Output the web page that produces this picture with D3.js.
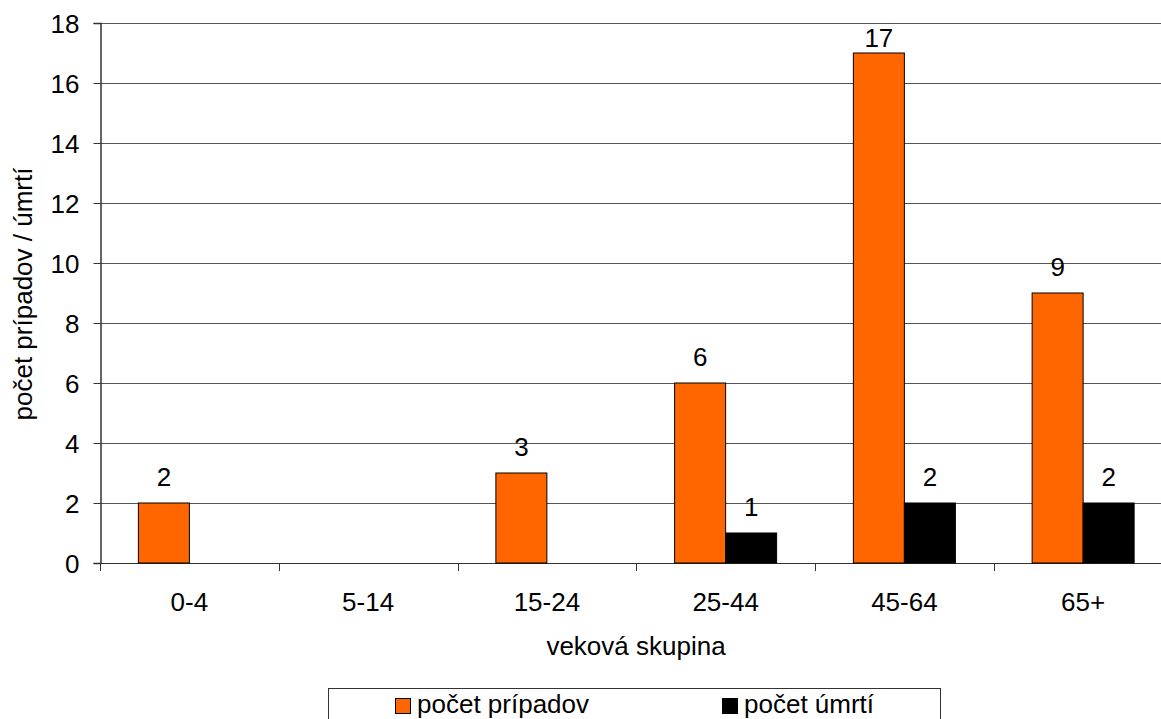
<!DOCTYPE html>
<html>
<head>
<meta charset="utf-8">
<script src="https://cdn.jsdelivr.net/npm/d3@7"></script>
<style>
  html, body { margin: 0; padding: 0; background: #fff; }
  svg { display: block; font-family: "Liberation Sans", Arial, sans-serif; }
</style>
</head>
<body>
<svg id="chart" width="1161" height="719"></svg>
<script>
// Age groups and counts
const categories = ["0-4", "5-14", "15-24", "25-44", "45-64", "65+"];
const cases = [2, 0, 3, 6, 17, 9];
const deaths = [0, 0, 0, 1, 2, 2];
const seriesNames = ["počet prípadov", "počet úmrtí"];
const seriesColors = ["#FF6600", "#000000"];
const yTicks = [0, 2, 4, 6, 8, 10, 12, 14, 16, 18];

const FONT = 26;
const svg = d3.select("#chart");
const plotLeft = 100, plotRight = 1172.5, plotTop = 23, plotBottom = 563;

const x = d3.scaleBand().domain(categories).range([plotLeft, plotRight]).paddingInner(0).paddingOuter(0);
const y = d3.scaleLinear().domain([0, 18]).range([plotBottom, plotTop]);
const barW = 51;
const inner = d3.scaleBand().domain([0, 1]).range([0, barW * 2]).padding(0);
const groupOffset = (x.bandwidth() - barW * 2) / 2;

// gridlines
svg.append("g").selectAll("line").data(yTicks.filter(d => d > 0)).join("line")
  .attr("x1", plotLeft).attr("x2", 1161)
  .attr("y1", d => Math.round(y(d)) + 0.5).attr("y2", d => Math.round(y(d)) + 0.5)
  .attr("stroke", "#555").attr("stroke-width", 1.2);

// y axis
const yAxis = svg.append("g").attr("transform", `translate(${plotLeft + 0.5},0)`)
  .call(d3.axisLeft(y).tickValues(yTicks).tickSize(7).tickPadding(14).tickFormat(d3.format("d")));
yAxis.select(".domain").attr("stroke", "#333").attr("stroke-width", 1.5);
yAxis.selectAll(".tick line").attr("stroke", "#333");
yAxis.selectAll(".tick text").attr("font-size", FONT).attr("fill", "#000")
  .attr("font-family", "Liberation Sans, Arial, sans-serif").attr("dy", "0.35em");

// x axis
const xAxis = svg.append("g").attr("transform", `translate(0,${plotBottom + 0.5})`)
  .call(d3.axisBottom(x).tickSize(0).tickPadding(0));
xAxis.select(".domain").attr("stroke", "#333").attr("stroke-width", 1.2).attr("d", `M${plotLeft},0H1161`);
xAxis.selectAll(".tick text").attr("font-size", FONT).attr("fill", "#000")
  .attr("font-family", "Liberation Sans, Arial, sans-serif").attr("dy", null).attr("y", 47);
// category separators
svg.append("g").selectAll("line").data(categories).join("line")
  .attr("x1", d => Math.round(x(d)) + 0.5).attr("x2", d => Math.round(x(d)) + 0.5)
  .attr("y1", plotBottom).attr("y2", plotBottom + 8)
  .attr("stroke", "#333").attr("stroke-width", 1);

// bars
const rows = categories.map((c, i) => ({ c, vals: [cases[i], deaths[i]] }));
const groups = svg.append("g").selectAll("g").data(rows).join("g")
  .attr("transform", d => `translate(${x(d.c) + groupOffset},0)`);
groups.selectAll("rect").data(d => d.vals.map((v, k) => ({ v, k })).filter(e => e.v > 0)).join("rect")
  .attr("x", e => inner(e.k))
  .attr("width", inner.bandwidth())
  .attr("y", e => y(e.v))
  .attr("height", e => y(0) - y(e.v))
  .attr("fill", e => seriesColors[e.k])
  .attr("stroke", "#000").attr("stroke-width", 1);
// value labels, kept inside the chart area near the top
groups.selectAll("text").data(d => d.vals.map((v, k) => ({ v, k })).filter(e => e.v > 0)).join("text")
  .attr("x", e => inner(e.k) + inner.bandwidth() / 2)
  .attr("y", e => Math.max(y(e.v) - 17, 47))
  .attr("text-anchor", "middle")
  .attr("font-size", FONT).attr("fill", "#000")
  .text(e => e.v);

// axis titles
svg.append("text").attr("x", 636).attr("y", 655).attr("text-anchor", "middle")
  .attr("font-size", FONT).text("veková skupina");
svg.append("text").attr("transform", "translate(32,294) rotate(-90)").attr("text-anchor", "middle")
  .attr("font-size", FONT).text("počet prípadov / úmrtí");

// legend
const lg = svg.append("g");
lg.append("rect").attr("x", 328.5).attr("y", 688.5).attr("width", 612).attr("height", 50)
  .attr("fill", "#fff").attr("stroke", "#333").attr("stroke-width", 1);
const legendX = [395, 722];
seriesNames.forEach((name, k) => {
  lg.append("rect").attr("x", legendX[k] + 0.5).attr("y", 698.5).attr("width", 15).attr("height", 15)
    .attr("fill", seriesColors[k]).attr("stroke", "#000").attr("stroke-width", 1);
  lg.append("text").attr("x", legendX[k] + 22).attr("y", 713).attr("font-size", FONT).text(name);
});
</script>
</body>
</html>
